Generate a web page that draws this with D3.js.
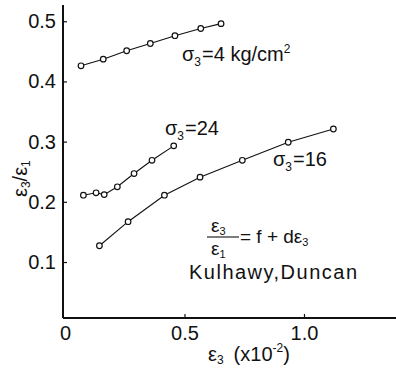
<!DOCTYPE html>
<html>
<head>
<meta charset="utf-8">
<script src="https://cdn.jsdelivr.net/npm/d3@7"></script>
<style>
  html, body { margin: 0; padding: 0; background: #fff; }
  svg { display: block; }
  text { font-family: "Liberation Sans", Arial, sans-serif; fill: #111; }
</style>
</head>
<body>
<svg id="chart" width="396" height="368"></svg>
<script>
// Strain ratio ε3/ε1 against ε3 (×10⁻²) for three confining pressures
const strain4  = [0.067, 0.160, 0.258, 0.357, 0.460, 0.568, 0.653];
const ratio4   = [0.426, 0.437, 0.451, 0.463, 0.476, 0.488, 0.496];
const strain24 = [0.077, 0.130, 0.164, 0.219, 0.289, 0.364, 0.455];
const ratio24  = [0.211, 0.215, 0.212, 0.225, 0.247, 0.269, 0.293];
const strain16 = [0.144, 0.264, 0.416, 0.565, 0.742, 0.934, 1.123];
const ratio16  = [0.127, 0.167, 0.211, 0.241, 0.269, 0.299, 0.321];

const xTicks = [0, 0.5, 1.0];
const yTicks = [0.1, 0.2, 0.3, 0.4, 0.5];

const series = [
  { x: strain4,  y: ratio4 },
  { x: strain24, y: ratio24 },
  { x: strain16, y: ratio16 }
];

const svg = d3.select("#chart");
const axisX0 = 63;

const x = d3.scaleLinear().domain([0, 1.385]).range([65, 396]);
const y = d3.scaleLinear().domain([0.007, 0.527]).range([318, 5]);

// y axis: ticks point inward
const yAxis = svg.append("g")
  .attr("transform", `translate(${axisX0},0)`)
  .call(d3.axisLeft(y).tickValues(yTicks).tickSize(-4).tickPadding(7)
        .tickFormat(d3.format(".1f")));
yAxis.select(".domain").attr("d", `M0,${y.range()[1]}V${y.range()[0]}`)
  .attr("stroke", "#111").attr("stroke-width", 2);
yAxis.selectAll(".tick line").attr("stroke", "#111").attr("stroke-width", 1.2);
yAxis.selectAll(".tick text").attr("font-size", 20).attr("fill", "#111")
  .attr("font-family", "Liberation Sans, Arial, sans-serif");

// x axis: ticks point up
const xAxis = svg.append("g")
  .attr("transform", `translate(0,${y.range()[0]})`)
  .call(d3.axisBottom(x).tickValues(xTicks).tickSize(-4).tickPadding(8)
        .tickFormat(d => d === 0 ? "0" : d3.format(".1f")(d)));
xAxis.select(".domain").attr("d", `M${axisX0},0H${x.range()[1]}`)
  .attr("stroke", "#111").attr("stroke-width", 1.8);
xAxis.selectAll(".tick line").attr("stroke", "#111").attr("stroke-width", 1.2)
  .filter(d => d === 0).remove();
xAxis.selectAll(".tick text").attr("font-size", 20).attr("fill", "#111")
  .attr("font-family", "Liberation Sans, Arial, sans-serif");

// data lines with open circle markers
const line = d3.line().x(d => x(d[0])).y(d => y(d[1]));
series.forEach(s => {
  const pts = s.x.map((v, i) => [v, s.y[i]]);
  svg.append("path").datum(pts)
    .attr("d", line).attr("fill", "none")
    .attr("stroke", "#111").attr("stroke-width", 1.1);
  svg.append("g").selectAll("circle").data(pts).join("circle")
    .attr("cx", d => x(d[0])).attr("cy", d => y(d[1])).attr("r", 2.8)
    .attr("fill", "#fff").attr("stroke", "#111").attr("stroke-width", 1.2);
});

// series labels
function sigmaLabel(px, py, size) {
  const t = svg.append("text").attr("x", px).attr("y", py).attr("font-size", size);
  t.append("tspan").text("σ");
  t.append("tspan").attr("font-size", size * 0.6).attr("dy", 5).text("3");
  const r = t.append("tspan").attr("dy", -5).attr("dx", 1);
  return { t, r };
}
const l4 = sigmaLabel(182, 61, 20);
l4.r.text("=4 kg/cm");
l4.t.append("tspan").attr("font-size", 12).attr("dy", -8).text("2");

const l24 = sigmaLabel(165, 135, 20);
l24.r.text("=24");

const l16 = sigmaLabel(273, 166, 20);
l16.r.text("=16");

// formula
const fx = 207;
svg.append("text").attr("x", fx + 4).attr("y", 232).attr("font-size", 19)
  .call(t => {
    t.append("tspan").text("ε");
    t.append("tspan").attr("font-size", 11).attr("dy", 3).text("3");
  });
svg.append("line").attr("x1", fx).attr("x2", fx + 32)
  .attr("y1", 237).attr("y2", 237).attr("stroke", "#111").attr("stroke-width", 1.1);
svg.append("text").attr("x", fx + 4).attr("y", 255).attr("font-size", 19)
  .call(t => {
    t.append("tspan").text("ε");
    t.append("tspan").attr("font-size", 11).attr("dy", 3).text("1");
  });
svg.append("text").attr("x", fx + 33).attr("y", 243).attr("font-size", 19)
  .call(t => {
    t.append("tspan").text("= f + dε");
    t.append("tspan").attr("font-size", 11).attr("dy", 3).text("3");
  });

svg.append("text").attr("x", 189).attr("y", 279).attr("font-size", 20)
  .attr("textLength", 168).attr("lengthAdjust", "spacing")
  .text("Kulhawy,Duncan");

// x axis title
svg.append("text").attr("x", 208).attr("y", 361).attr("font-size", 20)
  .call(t => {
    t.append("tspan").text("ε");
    t.append("tspan").attr("font-size", 12).attr("dy", 3).text("3");
    t.append("tspan").attr("dy", -3).attr("dx", 10).text("(x10");
    t.append("tspan").attr("font-size", 12).attr("dy", -9).text("-2");
    t.append("tspan").attr("font-size", 20).attr("dy", 9).text(")");
  });

// y axis title
svg.append("text").attr("transform", "translate(27,197) rotate(-90)")
  .attr("font-size", 20)
  .call(t => {
    t.append("tspan").text("ε");
    t.append("tspan").attr("font-size", 12).attr("dy", 3).text("3");
    t.append("tspan").attr("dy", -3).text("/ε");
    t.append("tspan").attr("font-size", 12).attr("dy", 3).text("1");
  });
</script>
</body>
</html>
